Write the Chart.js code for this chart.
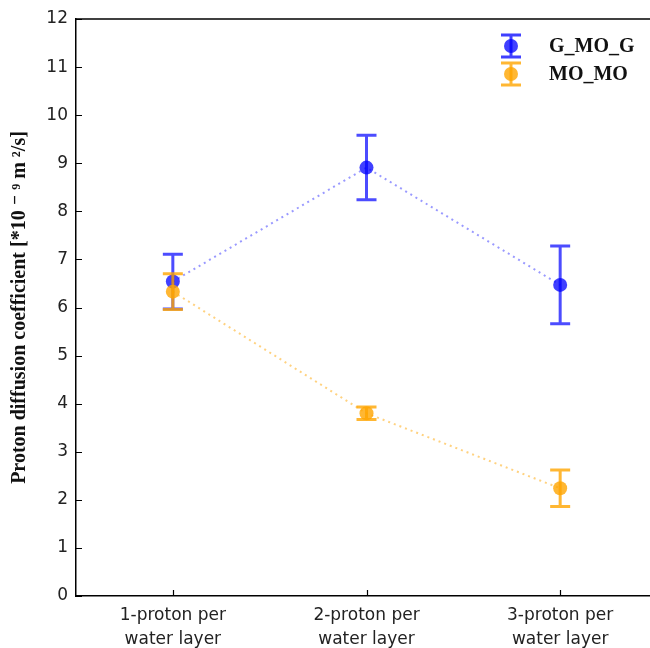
<!DOCTYPE html>
<html>
<head>
<meta charset="utf-8">
<script src="https://cdn.jsdelivr.net/npm/chart.js@4.4.0/dist/chart.umd.min.js"></script>
<style>
  html, body { margin: 0; padding: 0; background: #fff; overflow: hidden; }
  #wrap { width: 664px; height: 648px; }
</style>
</head>
<body>
<div id="wrap"><canvas id="chart" width="664" height="648"></canvas></div>
<script>
// data
const categories = [["1-proton per", "water layer"], ["2-proton per", "water layer"], ["3-proton per", "water layer"]];
const gmogValues = [6.54, 8.91, 6.47];
const gmogErrors = [0.57, 0.67, 0.81];
const momoValues = [6.33, 3.80, 2.24];
const momoErrors = [0.37, 0.13, 0.38];
const yMin = 0, yMax = 12, yStep = 1;

const BLUE = "rgba(0, 0, 255, 0.75)";
const ORANGE = "rgba(255, 165, 0, 0.8)";

// error bars drawn before each dataset's points, so the markers sit on top
const errorBars = {
  id: "errorBars",
  beforeDatasetDraw(chart, args) {
    const ds = chart.data.datasets[args.index];
    if (!ds.errors) return;
    const ctx = chart.ctx;
    const y = chart.scales.y;
    ctx.save();
    ctx.strokeStyle = ds.errColor;
    ctx.lineWidth = 3;
    args.meta.data.forEach((pt, i) => {
      const v = ds.data[i], e = ds.errors[i];
      const top = y.getPixelForValue(v + e);
      const bot = y.getPixelForValue(v - e);
      ctx.beginPath();
      ctx.moveTo(pt.x, top);
      ctx.lineTo(pt.x, bot);
      ctx.moveTo(pt.x - 10, top);
      ctx.lineTo(pt.x + 10, top);
      ctx.moveTo(pt.x - 10, bot);
      ctx.lineTo(pt.x + 10, bot);
      ctx.stroke();
    });
    ctx.restore();
  }
};

// frame, inward ticks and legend
const frame = {
  id: "frame",
  afterDraw(chart) {
    const { ctx, chartArea: a, scales } = chart;
    ctx.save();
    ctx.strokeStyle = "#000";
    ctx.lineWidth = 1.5;
    ctx.beginPath();
    ctx.moveTo(a.left, a.top);
    ctx.lineTo(a.right, a.top);
    ctx.stroke();
    ctx.lineWidth = 1.2;
    ctx.beginPath();
    scales.y.ticks.forEach((t, i) => {
      const py = Math.round(scales.y.getPixelForTick(i)) + 0.5;
      ctx.moveTo(a.left, py);
      ctx.lineTo(a.left + 6, py);
    });
    scales.x.ticks.forEach((t, i) => {
      const px = Math.round(scales.x.getPixelForTick(i)) + 0.5;
      ctx.moveTo(px, a.bottom);
      ctx.lineTo(px, a.bottom - 6);
    });
    ctx.stroke();

    // legend
    const items = [
      { label: "G_MO_G", color: BLUE, y: 46 },
      { label: "MO_MO", color: ORANGE, y: 74 }
    ];
    items.forEach(it => {
      const x = 511;
      ctx.strokeStyle = it.color;
      ctx.lineWidth = 3;
      ctx.beginPath();
      ctx.moveTo(x, it.y - 11); ctx.lineTo(x, it.y + 11);
      ctx.moveTo(x - 10, it.y - 11); ctx.lineTo(x + 10, it.y - 11);
      ctx.moveTo(x - 10, it.y + 11); ctx.lineTo(x + 10, it.y + 11);
      ctx.stroke();
      ctx.fillStyle = it.color;
      ctx.beginPath();
      ctx.arc(x, it.y, 7, 0, Math.PI * 2);
      ctx.fill();
      ctx.fillStyle = "#111";
      ctx.font = "bold 20px 'Liberation Serif', 'DejaVu Serif', serif";
      ctx.textBaseline = "middle";
      ctx.textAlign = "left";
      ctx.fillText(it.label, 549, it.y + 1);
    });
    ctx.restore();
  }
};

new Chart(document.getElementById("chart"), {
  type: "line",
  data: {
    labels: categories,
    datasets: [
      {
        label: "G_MO_G",
        data: gmogValues,
        errors: gmogErrors,
        errColor: "rgba(0, 0, 255, 0.7)",
        borderColor: "rgba(0, 0, 255, 0.4)",
        borderWidth: 2,
        borderDash: [2, 4],
        pointRadius: 7,
        pointBackgroundColor: BLUE,
        pointBorderWidth: 0,
        order: 2
      },
      {
        label: "MO_MO",
        data: momoValues,
        errors: momoErrors,
        errColor: "rgba(255, 165, 0, 0.8)",
        borderColor: "rgba(255, 165, 0, 0.5)",
        borderWidth: 2,
        borderDash: [2, 4],
        pointRadius: 7,
        pointBackgroundColor: ORANGE,
        pointBorderWidth: 0,
        order: 1
      }
    ]
  },
  options: {
    responsive: false,
    animation: false,
    layout: { padding: { top: 19, left: 0, right: 0, bottom: 0 } },
    plugins: { legend: { display: false }, tooltip: { enabled: false } },
    scales: {
      x: {
        offset: true,
        grid: { display: false, drawTicks: false },
        border: { color: "#000", width: 1.5 },
        ticks: {
          color: "#222",
          padding: 8,
          maxRotation: 0,
          font: { family: "'DejaVu Sans'", size: 17, lineHeight: 1.4 }
        },
        afterFit(scale) { scale.height = 52; }
      },
      y: {
        min: yMin,
        max: yMax,
        grid: { display: false, drawTicks: false },
        border: { color: "#000", width: 1.5 },
        ticks: {
          stepSize: yStep,
          color: "#222",
          padding: 8,
          font: { family: "'DejaVu Sans'", size: 17 }
        },
        title: {
          display: true,
          text: "Proton diffusion coefficient [*10 \u207B \u2079 m \u00B2/s]",
          color: "#111",
          padding: { top: 8, bottom: 0 },
          font: { family: "'Liberation Serif', 'DejaVu Serif', serif", size: 20, weight: "bold" }
        },
        afterFit(scale) { scale.width = 76; }
      }
    }
  },
  plugins: [errorBars, frame]
});
</script>
</body>
</html>
